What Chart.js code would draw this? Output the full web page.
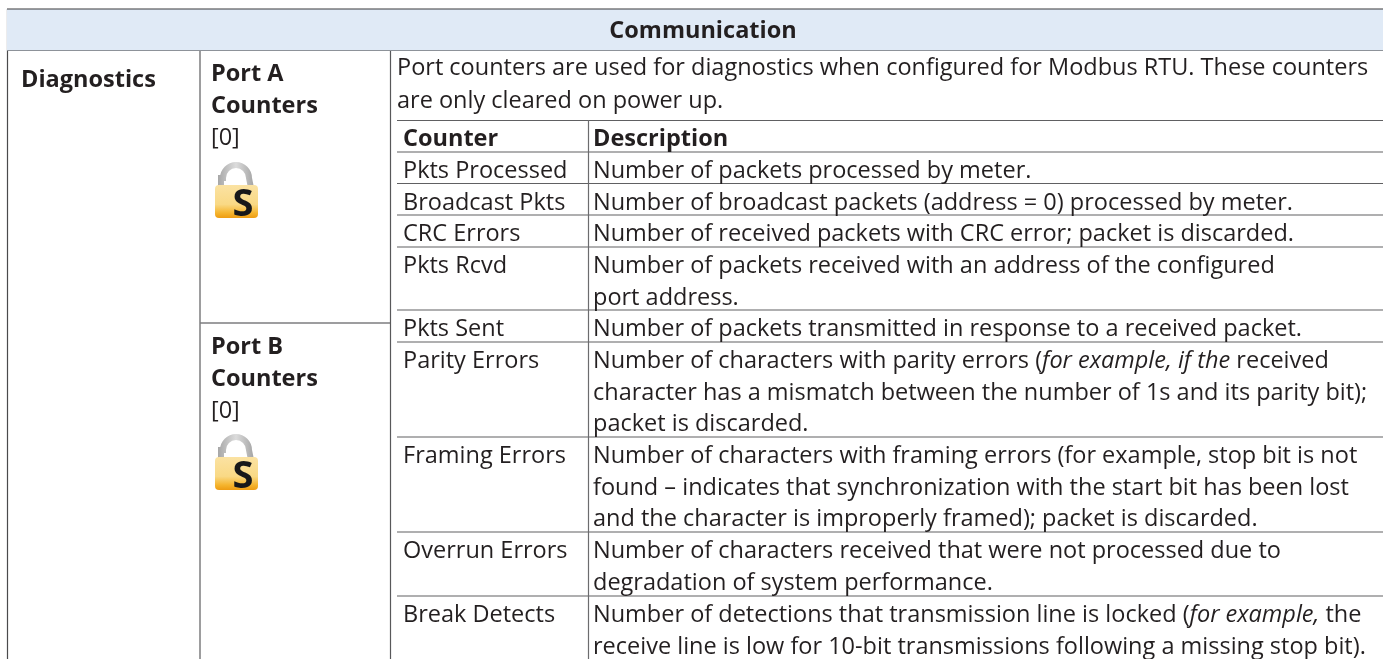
<!DOCTYPE html>
<html>
<head>
<meta charset="utf-8">
<title>Communication</title>
<script src="https://cdn.jsdelivr.net/npm/chart.js@4/dist/chart.umd.js"></script>
<style>
html, body { margin: 0; padding: 0; background: #fff; overflow: hidden; }
canvas { display: block; }
</style>
</head>
<body>
<canvas id="chart_content" width="1383" height="659"></canvas>
<script>
const title = "Communication";
const section = "Diagnostics";
const ports = [["Port A", "Counters", "[0]"], ["Port B", "Counters", "[0]"]];
const intro = ["Port counters are used for diagnostics when configured for Modbus RTU. These counters",
	"are only cleared on power up."];
const tableHead = ["Counter", "Description"];
const counters = ["Pkts Processed", "Broadcast Pkts", "CRC Errors", "Pkts Rcvd", "Pkts Sent",
	"Parity Errors", "Framing Errors", "Overrun Errors", "Break Detects"];
// text between * is italic
const descriptions = [
	["Number of packets processed by meter."],
	["Number of broadcast packets (address = 0) processed by meter."],
	["Number of received packets with CRC error; packet is discarded."],
	["Number of packets received with an address of the configured", "port address."],
	["Number of packets transmitted in response to a received packet."],
	["Number of characters with parity errors (*for example, if the* received",
		"character has a mismatch between the number of 1s and its parity bit);",
		"packet is discarded."],
	["Number of characters with framing errors (for example, stop bit is not",
		"found \u2013 indicates that synchronization with the start bit has been lost",
		"and the character is improperly framed); packet is discarded."],
	["Number of characters received that were not processed due to",
		"degradation of system performance."],
	["Number of detections that transmission line is locked (*for example,* the",
		"receive line is low for 10-bit transmissions following a missing stop bit)."]
];
const rowBaselines = [178, 210, 241, 273, 336, 368, 463, 558, 622];
const rowRules = [120.5, 152, 183.5, 215, 247, 310, 342, 437, 532, 596];
const lockSpots = [[236, 190], [236, 462]];

const inkColor = "#231f20";
const bodyFont = '"Open Sans"';
const lineStep = 31.6;
const fontPx = 23.5;
const tracking = "0px";

function makeLock() {
	var c = document.createElement("canvas");
	c.width = 52; c.height = 56;
	var g = c.getContext("2d");
	var steel = g.createLinearGradient(0, 0, 52, 0);
	steel.addColorStop(0, "#8f8f8f");
	steel.addColorStop(0.5, "#dcdcdc");
	steel.addColorStop(1, "#8a8a8a");
	g.strokeStyle = steel;
	g.lineWidth = 6;
	g.beginPath();
	g.moveTo(11, 26);
	g.lineTo(11, 16);
	g.arc(26, 16, 13, Math.PI, 0);
	g.lineTo(41, 26);
	g.stroke();
	var gold = g.createLinearGradient(0, 22, 0, 56);
	gold.addColorStop(0, "#fbe3a4");
	gold.addColorStop(0.6, "#f9d985");
	gold.addColorStop(0.85, "#f5b52f");
	gold.addColorStop(1, "#ee9c12");
	g.fillStyle = gold;
	g.beginPath();
	g.roundRect(5, 23, 43, 33, 4);
	g.fill();
	g.fillStyle = "#17181a";
	g.font = 'bold 38px "Open Sans"';
	g.textAlign = "center";
	g.textBaseline = "alphabetic";
	g.fillText("S", 33, 54);
	return c;
}

function rule(x0, y0, x1, y1, color, width) {
	return {
		type: "line",
		data: [{ x: x0, y: y0 }, { x: x1, y: y1 }],
		borderColor: color,
		borderWidth: width,
		pointRadius: 0,
		tension: 0
	};
}

var datasets = [];
// header band
datasets.push({
	type: "line",
	data: [{ x: 7, y: 9 }, { x: 1383, y: 9 }],
	borderColor: "#3a3a3c",
	borderWidth: 1.2,
	pointRadius: 0,
	fill: { value: 50.5 },
	backgroundColor: "#e0eaf6"
});
datasets.push(rule(7, 50.5, 1383, 50.5, "#3a3a3c", 1.2));
datasets.push(rule(7.5, 9, 7.5, 659, "#4a4a4c", 1.2));
datasets.push(rule(200, 50, 200, 659, "#7d7d7f", 1.5));
datasets.push(rule(390.5, 50, 390.5, 659, "#58585a", 1.2));
datasets.push(rule(200, 323, 390, 323, "#7d7d7f", 1.5));
datasets.push(rule(588.5, 120, 588.5, 659, "#6c6c6e", 1.2));
rowRules.forEach(function (y) {
	datasets.push(rule(397, y, 1383, y, "#606062", 1.2));
});
datasets.push({
	type: "scatter",
	data: lockSpots.map(function (p) { return { x: p[0], y: p[1] }; }),
	pointStyle: makeLock(),
	pointRadius: 26,
	showLine: false
});

function drawRun(ctx, scales, text, x, y, weight, align) {
	var px = scales.x.getPixelForValue(x);
	var py = scales.y.getPixelForValue(y);
	var parts = text.split("*");
	ctx.textAlign = "left";
	ctx.textBaseline = "alphabetic";
	ctx.fillStyle = inkColor;
	ctx.letterSpacing = tracking;
	if (align === "center") {
		ctx.font = weight + " " + fontPx + "px " + bodyFont;
		px -= ctx.measureText(text).width / 2;
	}
	parts.forEach(function (part, i) {
		ctx.font = (i % 2 ? "italic " : "") + weight + " " + fontPx + "px " + bodyFont;
		ctx.fillText(part, px, py);
		px += ctx.measureText(part).width;
	});
}

const tableText = {
	id: "tableText",
	afterDatasetsDraw: function (chart) {
		var ctx = chart.ctx, s = chart.scales;
		ctx.save();
		drawRun(ctx, s, title, 703, 38, "bold", "center");
		drawRun(ctx, s, section, 21, 87, "bold");
		[81, 354].forEach(function (y, p) {
			drawRun(ctx, s, ports[p][0], 211, y, "bold");
			drawRun(ctx, s, ports[p][1], 211, y + 31.5, "bold");
			drawRun(ctx, s, ports[p][2], 211, y + 64, "normal");
		});
		intro.forEach(function (line, i) {
			drawRun(ctx, s, line, 397, 75 + i * 33, "normal");
		});
		drawRun(ctx, s, tableHead[0], 403, 146, "bold");
		drawRun(ctx, s, tableHead[1], 593, 146, "bold");
		counters.forEach(function (name, i) {
			drawRun(ctx, s, name, 403, rowBaselines[i], "normal");
			descriptions[i].forEach(function (line, j) {
				drawRun(ctx, s, line, 593, rowBaselines[i] + j * lineStep, "normal");
			});
		});
		ctx.restore();
	}
};

function drawChart() {
	var config = {
		type: "scatter",
		data: { datasets: datasets },
		options: {
			responsive: false,
			animation: false,
			layout: { padding: 0, autoPadding: false },
			parsing: false,
			plugins: { legend: { display: false }, tooltip: { enabled: false } },
			scales: {
				x: { type: "linear", display: false, min: 0, max: 1383 },
				y: { type: "linear", display: false, min: 0, max: 659, reverse: true }
			}
		},
		plugins: [tableText]
	};
	new Chart(document.getElementById("chart_content"), config);
}

window.onload = function () {
	drawChart();
};
</script>
</body>
</html>
